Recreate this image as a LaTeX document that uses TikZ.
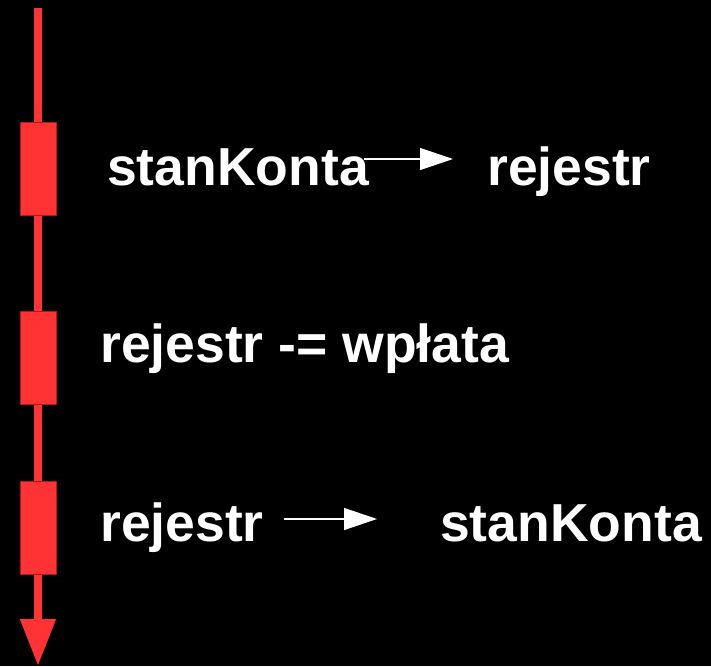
\documentclass[tikz,border=0pt]{standalone}
\usepackage{fontspec}
\setmainfont{Liberation Sans}
\usetikzlibrary{arrows.meta}
\definecolor{lifered}{HTML}{FF3333}
\definecolor{lifeedge}{HTML}{B01818}
\tikzset{
  lbl/.style={text=white, font=\fontsize{53.5}{60}\selectfont\bfseries, inner sep=0pt, anchor=base west},
  actbox/.style={fill=lifered, draw=lifeedge, line width=0.8pt, minimum width=36pt, minimum height=93pt, inner sep=0pt},
  flow/.style={draw=white, line width=1.3pt, -{Triangle[length=33pt,width=22pt]}},
  lifeline/.style={draw=lifered, line width=8pt, -{Triangle[length=47pt,width=34pt]}}
}
\begin{document}
\begin{tikzpicture}[x=1pt,y=-1pt]
  \fill[black] (0,0) rectangle (711,666);
  \useasboundingbox (0,0) rectangle (711,666);

  % lifeline with its arrowhead
  \coordinate (ltop) at (38,8);
  \coordinate (lend) at (38,666);
  \draw[lifeline] (ltop) -- (lend);

  % activation boxes
  \node[actbox] (b1) at (38,168.5) {};
  \node[actbox] (b2) at (38,357.5) {};
  \node[actbox] (b3) at (38,528) {};

  % step 1
  \node[lbl] (s1) at (107,185) {stanKonta};
  \node[lbl] (r1) at (487,185) {rejestr};
  \coordinate (a1s) at (364,159);
  \coordinate (a1e) at (453,159);
  \draw[flow] (a1s) -- (a1e);

  % step 2
  \node[lbl] (op) at (100,362) {rejestr -= wpłata};

  % step 3
  \node[lbl] (r3) at (100,541) {rejestr};
  \node[lbl] (s3) at (440,541) {stanKonta};
  \coordinate (a3s) at (284,519);
  \coordinate (a3e) at (377,519);
  \draw[flow] (a3s) -- (a3e);
\end{tikzpicture}
\end{document}
